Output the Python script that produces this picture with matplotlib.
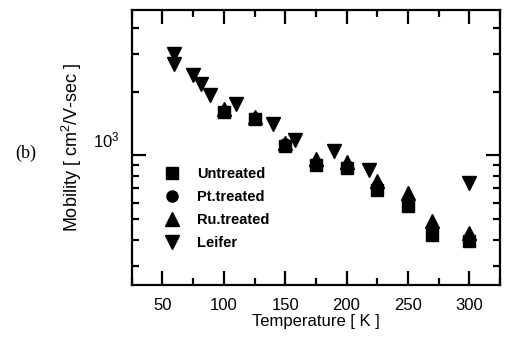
import numpy as np
import matplotlib
matplotlib.use("Agg")
import matplotlib.pyplot as plt
from matplotlib.ticker import MultipleLocator, LogLocator, NullFormatter, FixedLocator
import matplotlib.transforms as mtransforms

plt.rcParams['font.family'] = ['Liberation Sans', 'DejaVu Sans']
plt.rcParams['mathtext.fontset'] = 'custom'
plt.rcParams['mathtext.rm'] = 'Liberation Sans'

# sample temperatures [K]
temp = [100, 125, 150, 175, 200, 225, 250, 270, 300]
untreated = [1600, 1480, 1110, 900, 870, 690, 580, 420, 395]
pt_treated = [1620, 1500, 1130, 920, 890, 720, 610, 450, 405]
ru_treated = [1650, 1520, 1150, 965, 930, 760, 665, 490, 430]

# Leifer reference points
leifer_temp = [59, 59, 75, 81, 89, 110, 140, 158, 190, 218, 300]
leifer = [3000, 2700, 2380, 2180, 1920, 1750, 1400, 1180, 1050, 850, 740]

fig = plt.figure(figsize=(5.05, 3.52), dpi=100)
ax = fig.add_axes([0.261, 0.190, 0.729, 0.782])

ms = 8
ax.plot(temp, untreated, ls='none', marker='s', ms=ms, color='black', label='Untreated')
ax.plot(temp, pt_treated, ls='none', marker='o', ms=ms, color='black', label='Pt.treated')
ax.plot(temp, ru_treated, ls='none', marker='^', ms=ms + 1.5, color='black', label='Ru.treated')
ax.plot(leifer_temp, leifer, ls='none', marker='v', ms=ms + 1.5, color='black', label='Leifer')

ax.set_yscale('log')
ax.set_xlim(25, 325)
ax.set_ylim(245, 4850)

ax.xaxis.set_major_locator(MultipleLocator(50))
ax.xaxis.set_minor_locator(MultipleLocator(25))
ax.yaxis.set_major_locator(FixedLocator([1000]))
ax.yaxis.set_minor_locator(LogLocator(base=10, subs=np.arange(2, 10)))
ax.yaxis.set_minor_formatter(NullFormatter())

ax.tick_params(which='both', direction='in', top=True, right=True, width=1.6)
ax.tick_params(which='major', length=10, labelsize=12, pad=9)
ax.tick_params(which='minor', length=5)
for s in ax.spines.values():
    s.set_linewidth(1.6)

# the 10^3 label sits a bit above its tick in the original
off = mtransforms.ScaledTranslation(0, 12 / 72, fig.dpi_scale_trans)
for lbl in ax.get_yticklabels():
    lbl.set_transform(lbl.get_transform() + off)

ax.set_xlabel('Temperature [ K ]', fontsize=12, labelpad=1)
ax.set_ylabel('Mobility [ cm$^2$/V-sec ]', fontsize=13, labelpad=6)

fig.text(0.05, 0.565, '(b)', fontsize=13, family='Liberation Serif', ha='center', va='center')

leg = ax.legend(loc='lower left', bbox_to_anchor=(0.05, 0.08), frameon=False,
                prop={'size': 10.5, 'weight': 'bold'}, handletextpad=1.1,
                labelspacing=0.62, handlelength=1.2)

fig.savefig('out.png', dpi=100)
